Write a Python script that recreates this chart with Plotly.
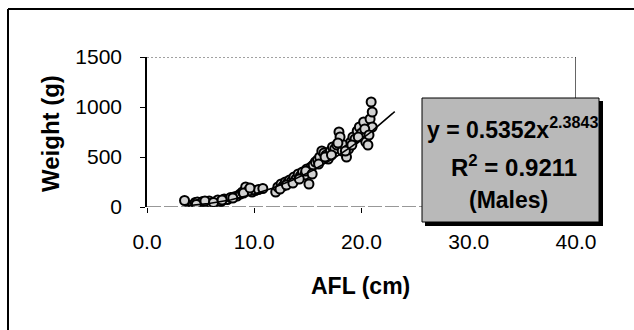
import numpy as np
import plotly.graph_objects as go

# Anal-fin length (cm) and body weight (g) of male fish
afl_cm = [3.5, 4.3, 4.5, 4.7, 4.9, 5.2, 5.5, 5.8, 6.0, 6.3, 6.6, 6.9, 7.2, 7.5,
          7.8, 8.1, 8.4, 8.7, 8.9, 9.2, 9.5, 9.8, 10.1, 10.4, 10.8, 12.0, 12.2,
          12.5, 12.7, 12.9, 13.1, 13.3, 13.5, 13.7, 13.9, 14.1, 14.3, 14.5, 14.7,
          14.9, 15.1, 15.3, 15.5, 15.7, 15.9, 16.1, 16.3, 16.5, 16.7, 16.9, 17.1,
          17.3, 17.5, 17.7, 17.9, 18.0, 18.2, 18.4, 18.6, 18.8, 19.0, 19.2, 19.4,
          19.6, 19.8, 20.0, 20.2, 20.4, 20.6, 20.8, 20.9, 21.0, 21.0,
          4.6, 5.4, 6.2, 7.0, 8.0, 9.0, 9.6, 12.4, 13.0, 13.6, 14.2, 14.8,
          15.4, 16.0, 16.6, 17.2, 17.8, 18.5, 19.1, 19.7, 20.3, 20.7]
weight_g = [65, 20, 45, 50, 30, 55, 40, 60, 35, 50, 70, 55, 80, 75,
            95, 100, 110, 130, 150, 200, 170, 150, 165, 175, 185, 150, 200,
            230, 210, 250, 240, 270, 260, 300, 280, 330, 310, 350, 320,
            380, 230, 400, 420, 450, 470, 500, 560, 540, 520, 480, 560,
            600, 580, 620, 750, 700, 560, 620, 500, 580, 650, 700, 680,
            760, 800, 740, 850, 650, 620, 880, 1050, 950, 800,
            25, 60, 45, 70, 90, 140, 190, 180, 220, 240, 280, 360,
            330, 430, 500, 520, 640, 560, 620, 700, 780, 720]

# Power trend line y = a * x^b
fit_a = 0.5352
fit_b = 2.3843
fit_r2 = 0.9211
fit_x_range = [3.5, 23.1]

x_ticks = [0, 10, 20, 30, 40]
y_ticks = [0, 500, 1000, 1500]

FONT = "Liberation Sans, Arial, sans-serif"

fx = np.linspace(fit_x_range[0], fit_x_range[1], 200)
fy = fit_a * fx ** fit_b

fig = go.Figure()
fig.add_trace(go.Scatter(
    x=afl_cm, y=weight_g, mode="markers",
    marker=dict(size=9, color="#d2d2d2", line=dict(color="black", width=2)),
    showlegend=False,
))
fig.add_trace(go.Scatter(
    x=fx, y=fy, mode="lines",
    line=dict(color="black", width=1.6), showlegend=False,
))

W, H = 634, 330
L, R, T, B = 147, 58, 57, 123
pw, ph = W - L - R, H - T - B


def px(xp):
    return (xp - L) / pw


def py(yp):
    return (H - B - yp) / ph


shapes = [
    # outer chart border (left and top edges)
    dict(type="line", xref="paper", yref="paper", x0=px(8), x1=px(8), y0=py(9), y1=py(335),
         line=dict(color="black", width=2)),
    dict(type="line", xref="paper", yref="paper", x0=px(8), x1=px(640), y0=py(9), y1=py(9),
         line=dict(color="black", width=2)),
    # plot area frame
    dict(type="line", xref="x", yref="y", x0=0, x1=40, y0=1500, y1=1500,
         line=dict(color="#444", width=1, dash="2px,2px")),
    dict(type="line", xref="x", yref="y", x0=40, x1=40, y0=0, y1=1500,
         line=dict(color="black", width=1.2)),
    dict(type="line", xref="x", yref="y", x0=0, x1=40, y0=0, y1=0,
         line=dict(color="#333", width=1.2, dash="14px,3px")),
    # label box shadow and box
    dict(type="rect", xref="paper", yref="paper", x0=px(425), x1=px(603), y0=py(101), y1=py(226),
         fillcolor="black", line=dict(width=0)),
    dict(type="rect", xref="paper", yref="paper", x0=px(422), x1=px(599), y0=py(98), y1=py(222),
         fillcolor="#b9b9b9", line=dict(color="black", width=1)),
]

annotations = [
    dict(text="<b>Weight (g)</b>", xref="paper", yref="paper", x=px(50), y=py(134),
         textangle=-90, showarrow=False, font=dict(size=24, color="black", family=FONT),
         xanchor="center", yanchor="middle"),
    dict(text="<b>AFL (cm)</b>", xref="paper", yref="paper", x=px(360), y=py(286),
         showarrow=False, font=dict(size=23, color="black", family=FONT),
         xanchor="center", yanchor="middle"),
    dict(text=f"<b>y = {fit_a}x<sup>{fit_b}</sup></b>", xref="paper", yref="paper",
         x=px(512), y=py(128), showarrow=False,
         font=dict(size=23, color="black", family=FONT), xanchor="center", yanchor="middle"),
    dict(text=f"<b>R<sup>2</sup> = {fit_r2}</b>", xref="paper", yref="paper",
         x=px(514), y=py(166), showarrow=False,
         font=dict(size=24, color="black", family=FONT), xanchor="center", yanchor="middle"),
    dict(text="<b>(Males)</b>", xref="paper", yref="paper",
         x=px(508), y=py(200), showarrow=False,
         font=dict(size=23, color="black", family=FONT), xanchor="center", yanchor="middle"),
]

fig.update_layout(
    width=W, height=H,
    margin=dict(l=L, r=R, t=T, b=B, pad=0),
    paper_bgcolor="white", plot_bgcolor="white",
    font=dict(family=FONT, color="black", size=21),
    shapes=shapes, annotations=annotations,
)
fig.update_xaxes(
    range=[0, 40], tickvals=x_ticks, ticktext=[f"{v:.1f}" for v in x_ticks],
    showgrid=False, zeroline=False, showline=False,
    ticks="outside", ticklen=5, tickcolor="black", ticklabelstandoff=11,
    tickfont=dict(size=21, family=FONT),
)
fig.update_yaxes(
    range=[0, 1500], tickvals=y_ticks, showgrid=False, zeroline=False,
    showline=True, linecolor="black", linewidth=1.5,
    ticks="outside", ticklen=5, tickcolor="black", ticklabelstandoff=14,
    tickfont=dict(size=21, family=FONT),
)

fig.write_html("out.html")
